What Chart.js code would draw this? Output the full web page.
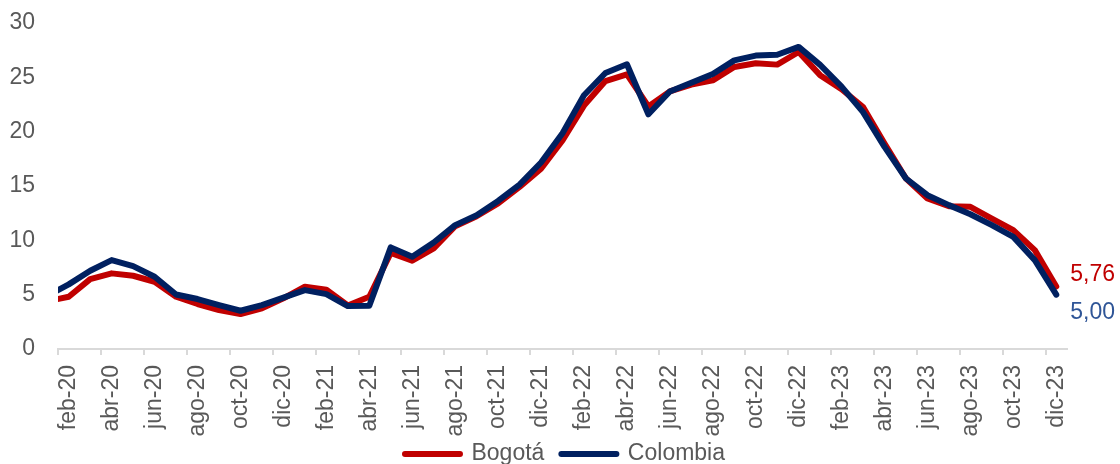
<!DOCTYPE html>
<html><head><meta charset="utf-8">
<script src="https://cdn.jsdelivr.net/npm/chart.js@4.4.0/dist/chart.umd.min.js"></script>
<style>html,body{margin:0;padding:0;overflow:hidden;background:#fff}canvas{display:block}</style>
</head><body>
<canvas id="c" width="1120" height="488"></canvas>
<script>
// Months, jan-20 (index 0) .. dic-23 (index 47)
const months = ['ene-20','feb-20','mar-20','abr-20','may-20','jun-20','jul-20','ago-20','sep-20','oct-20','nov-20','dic-20',
  'ene-21','feb-21','mar-21','abr-21','may-21','jun-21','jul-21','ago-21','sep-21','oct-21','nov-21','dic-21',
  'ene-22','feb-22','mar-22','abr-22','may-22','jun-22','jul-22','ago-22','sep-22','oct-22','nov-22','dic-22',
  'ene-23','feb-23','mar-23','abr-23','may-23','jun-23','jul-23','ago-23','sep-23','oct-23','nov-23','dic-23'];

const bogota = [4.4, 4.81, 6.43, 6.96, 6.74, 6.19, 4.81, 4.14, 3.58, 3.22, 3.74, 4.66,
  5.73, 5.45, 4.0, 4.81, 8.85, 8.12, 9.25, 11.3, 12.22, 13.39, 14.92, 16.6,
  19.2, 22.4, 24.66, 25.28, 22.33, 23.7, 24.33, 24.72, 25.95, 26.3, 26.17, 27.33,
  25.2, 23.9, 22.27, 18.9, 15.69, 13.85, 13.14, 13.08, 12.0, 10.94, 9.1, 5.76];

const colombia = [4.9, 5.95, 7.2, 8.18, 7.63, 6.65, 5.02, 4.6, 4.04, 3.52, 4.04, 4.72,
  5.42, 5.05, 3.95, 3.98, 9.35, 8.49, 9.8, 11.4, 12.3, 13.63, 15.13, 17.16,
  19.85, 23.35, 25.4, 26.2, 21.6, 23.7, 24.5, 25.3, 26.56, 27.0, 27.08, 27.8,
  26.15, 24.15, 21.8, 18.6, 15.69, 14.15, 13.24, 12.4, 11.4, 10.32, 8.18, 5.00];

const xTickLabels = ['feb-20','abr-20','jun-20','ago-20','oct-20','dic-20',
  'feb-21','abr-21','jun-21','ago-21','oct-21','dic-21',
  'feb-22','abr-22','jun-22','ago-22','oct-22','dic-22',
  'feb-23','abr-23','jun-23','ago-23','oct-23','dic-23'];

const yTicks = [0, 5, 10, 15, 20, 25, 30];

const seriesNames = ['Bogotá', 'Colombia'];

const FONT = '"Liberation Sans", Arial, sans-serif';
const GREY = '#595959';

const toPoints = arr => arr.map((v, i) => ({x: i, y: v}));
const fmt = v => v.toFixed(2).replace('.', ',');

const labelIdx = xTickLabels.map(l => months.indexOf(l));
const xTickValues = [];
labelIdx.forEach(i => { xTickValues.push(i - 0.5); xTickValues.push(i); });

const endLabels = {
  id: 'endLabels',
  afterDatasetsDraw(chart) {
    const ctx = chart.ctx;
    chart.data.datasets.forEach((ds, i) => {
      const meta = chart.getDatasetMeta(i);
      const last = meta.data.length - 1;
      const pt = meta.data[last];
      const cfg = ds.endLabel;
      ctx.save();
      ctx.font = '23px ' + FONT;
      ctx.fillStyle = cfg.color;
      ctx.textAlign = 'left';
      ctx.textBaseline = 'middle';
      ctx.fillText(fmt(ds.data[last].y), pt.x + cfg.dx, pt.y + cfg.dy);
      ctx.restore();
    });
  }
};

// nudge the legend box so it sits just under the rotated month labels
const legendShift = {
  id: 'legendShift',
  afterLayout(chart) {
    const l = chart.legend;
    if (!l) return;
    l.top -= 12.5; l.bottom -= 12.5;
    l.left += 5; l.right += 5;
  }
};

new Chart(document.getElementById('c'), {
  type: 'line',
  data: {
    datasets: [
      { label: seriesNames[0], data: toPoints(bogota), borderColor: '#C00000', backgroundColor: '#C00000',
        borderWidth: 6, pointRadius: 0, tension: 0, borderJoinStyle: 'round', borderCapStyle: 'round',
        clip: 0, order: 1, endLabel: {color: '#C00000', dx: 14, dy: -12} },
      { label: seriesNames[1], data: toPoints(colombia), borderColor: '#002060', backgroundColor: '#002060',
        borderWidth: 6, pointRadius: 0, tension: 0, borderJoinStyle: 'round', borderCapStyle: 'round',
        clip: 0, order: 0, endLabel: {color: '#2F5597', dx: 14, dy: 18} }
    ]
  },
  options: {
    responsive: false,
    animation: false,
    devicePixelRatio: 1,
    layout: { padding: { left: 0, right: 0, top: 23, bottom: 0 } },
    plugins: {
      tooltip: { enabled: false },
      legend: {
        position: 'bottom',
        labels: {
          usePointStyle: true,
          pointStyleWidth: 55,
          padding: 17,
          color: GREY,
          font: { size: 23, family: FONT },
          generateLabels(chart) {
            return chart.data.datasets.map((ds, i) => ({
              text: ds.label, fillStyle: ds.borderColor, strokeStyle: ds.borderColor,
              lineWidth: 6, lineCap: 'round', pointStyle: 'line', hidden: false,
              datasetIndex: i, fontColor: GREY
            }));
          }
        }
      }
    },
    scales: {
      x: {
        type: 'linear',
        min: 0.5, max: 47.5,
        afterBuildTicks(s) { s.ticks = xTickValues.map(v => ({value: v})); },
        afterFit(s) { s.height = 89; },
        grid: {
          drawOnChartArea: false, drawTicks: true, tickLength: 6, lineWidth: 2,
          color: c => (c.tick && Number.isInteger(c.tick.value)) ? 'rgba(0,0,0,0)' : '#d9d9d9'
        },
        border: { display: true, color: '#d9d9d9', width: 2 },
        ticks: {
          autoSkip: false, minRotation: 90, maxRotation: 90, padding: 10,
          color: GREY, font: { size: 23, family: FONT },
          callback: v => Number.isInteger(v) ? months[v] : ''
        }
      },
      y: {
        position: 'left',
        min: 0, max: 30,
        afterBuildTicks(s) { s.ticks = yTicks.map(v => ({value: v})); },
        afterFit(s) { s.width = 58; s.paddingTop = 0; s.paddingBottom = 0; },
        grid: { display: false, drawTicks: false },
        border: { display: false },
        ticks: { padding: 23, color: GREY, font: { size: 23, family: FONT } }
      },
      yR: {
        position: 'right',
        min: 0, max: 30,
        afterFit(s) { s.width = 53; s.paddingTop = 0; s.paddingBottom = 0; },
        grid: { display: false, drawTicks: false },
        border: { display: false },
        ticks: { display: false }
      }
    }
  },
  plugins: [endLabels, legendShift]
});
</script>
</body></html>
